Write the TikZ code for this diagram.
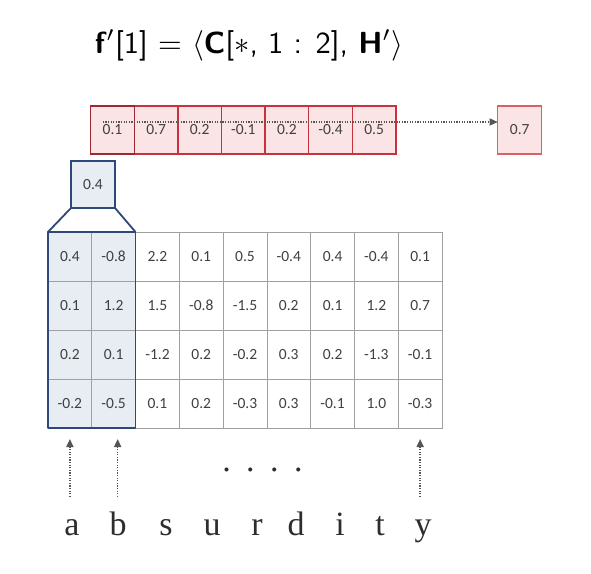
\documentclass[tikz,border=0pt]{standalone}
\usepackage{fontspec}
\usepackage{graphicx}
\newfontfamily\cellfont{Carlito}
\newfontfamily\letterfont{Liberation Serif}
\usetikzlibrary{arrows.meta}
\definecolor{gridline}{RGB}{160,160,160}
\definecolor{celltext}{RGB}{64,64,64}
\definecolor{bluefill}{RGB}{232,236,243}
\definecolor{blueedge}{RGB}{47,72,122}
\definecolor{redfill}{RGB}{251,228,229}
\definecolor{rededge}{RGB}{200,50,60}
\definecolor{rededgelight}{RGB}{220,95,100}
\definecolor{arrowgray}{RGB}{85,85,85}
\definecolor{lettertext}{RGB}{45,45,45}
\begin{document}
\begin{tikzpicture}[x=1pt,y=-1pt,
  gcell/.style={draw=gridline, line width=0.8pt, minimum width=43.78pt, minimum height=49pt,
    inner sep=0pt, outer sep=0pt, text=celltext, font=\cellfont\fontsize{15.5}{18}\selectfont},
  rcell/.style={draw=rededge, fill=redfill, line width=1.5pt, minimum width=43.6pt, minimum height=48pt,
    inner sep=0pt, outer sep=0pt, text=celltext, font=\cellfont\fontsize{15.5}{18}\selectfont},
  bluebox/.style={draw=blueedge, fill=bluefill, line width=1.8pt, minimum width=44pt, minimum height=47pt,
    inner sep=0pt, outer sep=0pt, text=celltext, font=\cellfont\fontsize{15.5}{18}\selectfont},
  blueline/.style={draw=blueedge, line width=1.8pt, line join=round},
  dotarrow/.style={draw=arrowgray, line width=1.6pt, dash pattern=on 1.3pt off 1.3pt,
    -{Triangle[length=8pt,width=7pt]}},
  letter/.style={anchor=base, inner sep=0pt, text=lettertext, font=\letterfont\fontsize{34}{40}\selectfont}
]
\useasboundingbox (0,0) rectangle (591,573);

% title
\node[anchor=base, inner sep=0pt] (title) at (249,53)
  {\resizebox{308pt}{!}{\sffamily\textbf{f}$'$[1] $=$ $\langle$\textbf{C}[$*$, 1 : 2], \textbf{H}$'\rangle$}};

% grid
\foreach \row [count=\r] in {{0.4,-0.8,2.2,0.1,0.5,-0.4,0.4,-0.4,0.1},
                             {0.1,1.2,1.5,-0.8,-1.5,0.2,0.1,1.2,0.7},
                             {0.2,0.1,-1.2,0.2,-0.2,0.3,0.2,-1.3,-0.1},
                             {-0.2,-0.5,0.1,0.2,-0.3,0.3,-0.1,1.0,-0.3}}{
  \foreach \v [count=\c] in \row {
    \ifnum\c<3 \def\cf{bluefill}\else\def\cf{white}\fi
    \node[gcell, fill=\cf] (c\r\c) at ({48+43.78*(\c-0.5)},{232+49*(\r-0.5)}) {\v};
  }
}

% blue selection
\node[bluebox] (top) at (93,184.5) {0.4};
\draw[blueline] (c11.north west) rectangle (c42.south east);
\draw[blueline] (top.south west) -- (c11.north west);
\draw[blueline] (top.south east) -- (c12.north east);

% red row
\foreach \v [count=\i] in {0.1,0.7,0.2,-0.1,0.2,-0.4,0.5} {
  \node[rcell] (r\i) at ({90.7+43.6*(\i-0.5)},130) {\v};
}
\draw[draw=rededge!80!black, line width=1.5pt] (r1.north west) rectangle (r1.south east);
\node[rcell, draw=rededgelight, minimum width=44pt] (r8) at (519.7,130) {0.7};
\draw[dotarrow, line width=1.3pt] ([xshift=12pt,yshift=8pt]r1.west) -- ([yshift=8pt]r8.west);

% letters
\node[letter] (la) at (72,535) {a};
\node[letter] (lb) at (118,535) {b};
\node[letter] (ls) at (166,535) {s};
\node[letter] (lu) at (212,535) {u};
\node[letter] (lr) at (257,535) {r};
\node[letter] (ld) at (296,535) {d};
\node[letter] (li) at (340,535) {i};
\node[letter] (lt) at (380,535) {t};
\node[letter] (ly) at (423,535) {y};

% ellipsis
\node[letter] (dots) at (262.5,471)
  {.\hspace{15.5pt}.\hspace{15.5pt}.\hspace{15.5pt}.};

% arrows from letters
\draw[dotarrow] ([yshift=-69pt]c41.south) -- ([yshift=-11pt]c41.south);
\draw[dotarrow] ([xshift=4pt,yshift=-69pt]c42.south) -- ([xshift=4pt,yshift=-11pt]c42.south);
\draw[dotarrow] ([yshift=-69pt]c49.south) -- ([yshift=-11pt]c49.south);
\end{tikzpicture}
\end{document}
